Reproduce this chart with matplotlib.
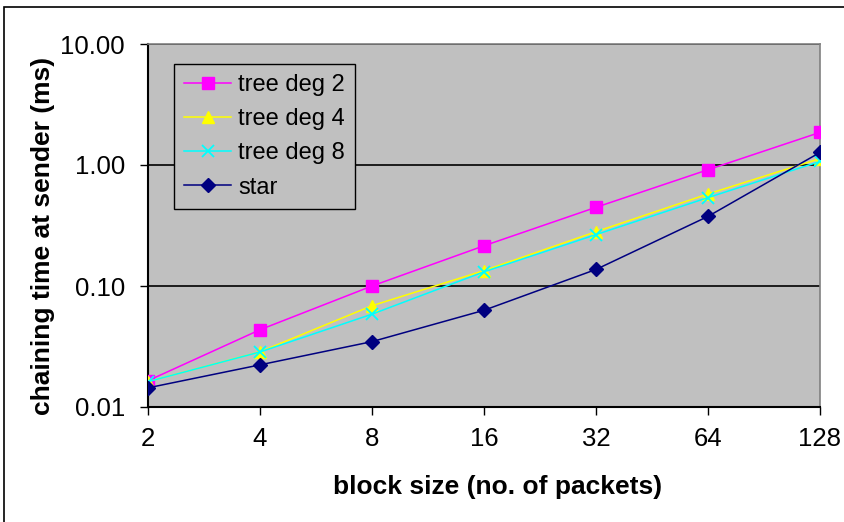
import matplotlib
matplotlib.use('Agg')
import matplotlib.pyplot as plt
from matplotlib.patches import Rectangle
from matplotlib.ticker import FixedLocator, NullLocator

plt.rcParams['font.family'] = ['Liberation Sans', 'DejaVu Sans']

block_sizes = ['2', '4', '8', '16', '32', '64', '128']
tree_deg2 = [0.0165, 0.0435, 0.100, 0.215, 0.447, 0.914, 1.86]
tree_deg4 = [0.0162, 0.0286, 0.0687, 0.134, 0.281, 0.576, 1.13]
tree_deg8 = [0.0162, 0.0285, 0.0585, 0.131, 0.266, 0.538, 1.07]
star = [0.0144, 0.0223, 0.0347, 0.063, 0.137, 0.376, 1.27]

yticks = [0.01, 0.1, 1.0, 10.0]
ytick_labels = ['0.01', '0.10', '1.00', '10.00']

fig = plt.figure(figsize=(8.45, 5.22), dpi=100)
ax = fig.add_axes([148/845, 1-407/522, (820-148)/845, (407-44)/522])
ax.set_facecolor('#C0C0C0')

x = list(range(len(block_sizes)))
ax.plot(x, tree_deg2, color='#FF00FF', lw=1.1, marker='s', ms=9, label='tree deg 2', zorder=3)
ax.plot(x, tree_deg4, color='#FFFF00', lw=1.1, marker='^', ms=9, label='tree deg 4', zorder=4)
ax.plot(x, tree_deg8, color='#00FFFF', lw=1.1, marker='x', ms=8, mew=1.3, label='tree deg 8', zorder=5)
ax.plot(x, star, color='#000080', lw=1.1, marker='D', ms=7.5, label='star', zorder=6)

ax.set_yscale('log')
ax.set_ylim(0.01, 10)
ax.yaxis.set_major_locator(FixedLocator(yticks))
ax.yaxis.set_minor_locator(NullLocator())
ax.set_yticklabels(ytick_labels)
ax.set_xlim(0, len(block_sizes) - 1)
ax.set_xticks(x)
ax.set_xticklabels(block_sizes)
ax.grid(axis='y', color='black', lw=1.2)
ax.set_axisbelow(True)

for s in ['top', 'right']:
    ax.spines[s].set_color('#808080')
    ax.spines[s].set_linewidth(1.2)
for s in ['left', 'bottom']:
    ax.spines[s].set_color('black')
    ax.spines[s].set_linewidth(1.5)

ax.tick_params(axis='both', direction='out', length=5.5, width=1, labelsize=18.5)
ax.tick_params(axis='x', pad=9)
ax.tick_params(axis='y', pad=11)

ax.set_xlabel('block size (no. of packets)', fontsize=19, fontweight='bold')
ax.set_ylabel('chaining time at sender (ms)', fontsize=19, fontweight='bold')
ax.xaxis.label.set_va('center')
ax.yaxis.label.set_va('center')
ax.xaxis.set_label_coords((498-148)/672, (407-487)/363)
ax.yaxis.set_label_coords((43-148)/672, (407-236)/363)

leg = ax.legend(loc='upper left', bbox_to_anchor=((174-148)/672, 1-(64-44)/363),
                fontsize=17, frameon=True, fancybox=False, framealpha=1,
                facecolor='#C0C0C0', edgecolor='black', handlelength=2.0,
                handletextpad=0.3, labelspacing=0.52, borderpad=0.42, borderaxespad=0)
leg.get_frame().set_linewidth(1.0)

fig.patches.append(Rectangle((4/845, -0.1), 1.2, 1.1 - 7/522, transform=fig.transFigure,
                             fill=False, edgecolor='black', lw=1.2, clip_on=False))

fig.savefig('out.png', dpi=100)
